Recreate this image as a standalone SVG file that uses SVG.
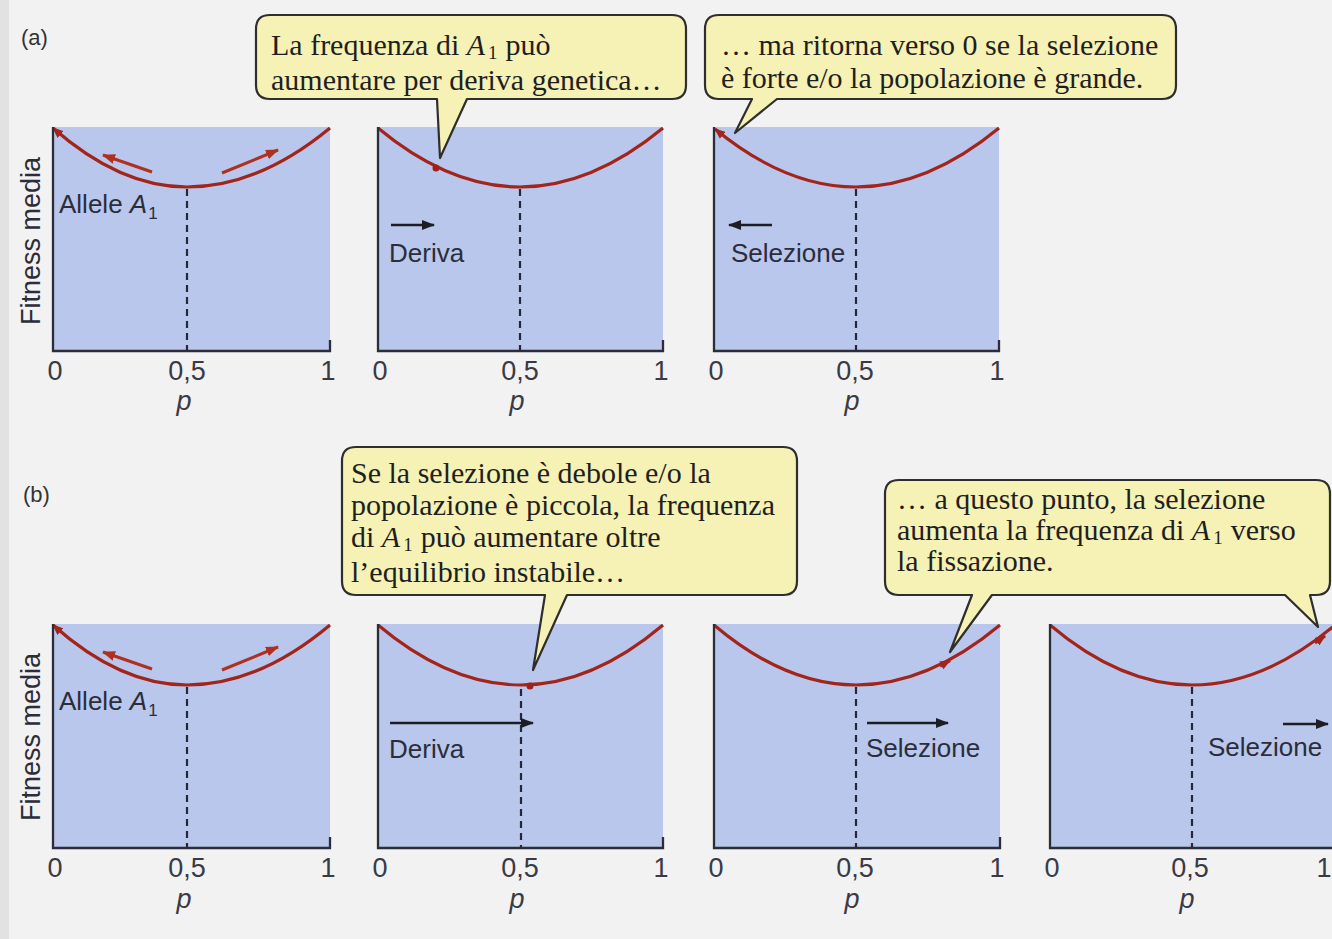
<svg xmlns="http://www.w3.org/2000/svg" width="1332" height="939" viewBox="0 0 1332 939">
<defs>
<style>
.bg{fill:#b8c7eb}
.ax{fill:none;stroke:#2b2d3a;stroke-width:2.3}
.dash{fill:none;stroke:#25273a;stroke-width:2.2;stroke-dasharray:7 5}
.crv{fill:none;stroke:#a3241b;stroke-width:3.2}
.rarr{fill:none;stroke:#b0301f;stroke-width:3}
.barr{fill:none;stroke:#1d1d24;stroke-width:2.4}
.tick{font-family:"Liberation Sans",Arial,sans-serif;font-size:27px;fill:#3a3a44;text-anchor:middle}
.pl{font-family:"Liberation Sans",Arial,sans-serif;font-size:27px;font-style:italic;fill:#3a3a44;text-anchor:middle}
.lbl{font-family:"Liberation Sans",Arial,sans-serif;font-size:26px;fill:#2b2d3a}
.ylab{font-family:"Liberation Sans",Arial,sans-serif;font-size:27px;fill:#2b2d3a;text-anchor:middle}
.tag{font-family:"Liberation Sans",Arial,sans-serif;font-size:22px;fill:#333}
.bub{fill:#f6f1b4;stroke:#2e2e2e;stroke-width:2.2;stroke-linejoin:round}
.ct{font-family:"Liberation Serif","Times New Roman",serif;font-size:30px;fill:#1f1f1f}
.dot{fill:#9e2218}
</style>
<marker id="bh" markerUnits="userSpaceOnUse" markerWidth="13" markerHeight="10" refX="12" refY="5" orient="auto">
<path d="M0,0 L13,5 L0,10 z" fill="#1d1d24"/>
</marker>
<marker id="rh" markerUnits="userSpaceOnUse" markerWidth="13" markerHeight="10" refX="12" refY="5" orient="auto">
<path d="M0,0 L13,5 L0,10 z" fill="#b0301f"/>
</marker>
<marker id="rs" markerUnits="userSpaceOnUse" markerWidth="11" markerHeight="9" refX="10" refY="4.5" orient="auto-start-reverse">
<path d="M0,0 L11,4.5 L0,9 z" fill="#a3241b"/>
</marker>
</defs>

<rect x="0" y="0" width="1332" height="939" fill="#f2f2f2"/>
<rect x="0" y="0" width="9" height="939" fill="#e2e2e2"/>

<text class="tag" x="21" y="45">(a)</text>
<text class="tag" x="23" y="502">(b)</text>

<!-- Row (a) -->
<g id="panel-a1">
<rect class="bg" x="53" y="127" width="277" height="224"/>
<path class="crv" d="M 53 128 Q 120 187 187 187 Q 258.5 187 330 128" marker-start="url(#rs)"/>
<path class="dash" d="M 187 189 V 350"/>
<path class="ax" d="M 53 127 V 351 H 330 V 340"/>
<text class="ylab" transform="translate(40 241) rotate(-90)">Fitness media</text>
<text class="lbl" x="59" y="213">Allele <tspan font-style="italic">A</tspan><tspan font-size="17" dx="1" dy="6">1</tspan></text>
<text class="tick" x="55" y="380">0</text>
<text class="tick" x="187" y="380">0,5</text>
<text class="tick" x="328" y="380">1</text>
<text class="pl" x="184" y="410">p</text>
</g>

<g id="panel-a2">
<rect class="bg" x="378" y="127" width="285" height="224"/>
<path class="crv" d="M 378 128 Q 449 187 520 187 Q 591.5 187 663 128"/>
<circle class="dot" cx="436" cy="168" r="3.5"/>
<path class="dash" d="M 520 189 V 350"/>
<path class="ax" d="M 378 127 V 351 H 663 V 340"/>
<text class="lbl" x="389" y="262">Deriva</text>
<text class="tick" x="380" y="380">0</text>
<text class="tick" x="520" y="380">0,5</text>
<text class="tick" x="661" y="380">1</text>
<text class="pl" x="517" y="410">p</text>
</g>

<g id="panel-a3">
<rect class="bg" x="714" y="127" width="285" height="224"/>
<path class="crv" d="M 715 129 Q 785.5 187 856 187 Q 927.5 187 999 128" marker-start="url(#rs)"/>
<path class="dash" d="M 856 189 V 350"/>
<path class="ax" d="M 714 127 V 351 H 999 V 340"/>
<text class="lbl" x="731" y="262">Selezione</text>
<text class="tick" x="716" y="380">0</text>
<text class="tick" x="855" y="380">0,5</text>
<text class="tick" x="997" y="380">1</text>
<text class="pl" x="852" y="410">p</text>
</g>

<!-- Row (b) -->
<g id="panel-b1">
<rect class="bg" x="53" y="624" width="277" height="224"/>
<path class="crv" d="M 53 625 Q 120 685 187 685 Q 258.5 685 330 625" marker-start="url(#rs)"/>
<path class="dash" d="M 187 687 V 847"/>
<path class="ax" d="M 53 624 V 848 H 330 V 837"/>
<text class="ylab" transform="translate(40 737) rotate(-90)">Fitness media</text>
<text class="lbl" x="59" y="710">Allele <tspan font-style="italic">A</tspan><tspan font-size="17" dx="1" dy="6">1</tspan></text>
<text class="tick" x="55" y="877">0</text>
<text class="tick" x="187" y="877">0,5</text>
<text class="tick" x="328" y="877">1</text>
<text class="pl" x="184" y="908">p</text>
</g>

<g id="panel-b2">
<rect class="bg" x="378" y="624" width="285" height="224"/>
<path class="crv" d="M 378 625 Q 449.5 685 521 685 Q 592 685 663 625"/>
<circle class="dot" cx="530" cy="686" r="3.5"/>
<path class="dash" d="M 521 689 V 847"/>
<path class="ax" d="M 378 624 V 848 H 663 V 837"/>
<text class="lbl" x="389" y="758">Deriva</text>
<text class="tick" x="380" y="877">0</text>
<text class="tick" x="520" y="877">0,5</text>
<text class="tick" x="661" y="877">1</text>
<text class="pl" x="517" y="908">p</text>
</g>

<g id="panel-b3">
<rect class="bg" x="714" y="624" width="286" height="224"/>
<path class="crv" d="M 714 625 Q 785 685 856 685 Q 928 685 1000 625"/>
<path class="dash" d="M 856 687 V 847"/>
<path class="ax" d="M 714 624 V 848 H 1000 V 837"/>
<text class="lbl" x="866" y="757">Selezione</text>
<text class="tick" x="716" y="877">0</text>
<text class="tick" x="855" y="877">0,5</text>
<text class="tick" x="997" y="877">1</text>
<text class="pl" x="852" y="908">p</text>
</g>

<g id="panel-b4">
<rect class="bg" x="1050" y="624" width="290" height="224"/>
<path class="crv" d="M 1050 625 Q 1121 685 1192 685 Q 1263.5 685 1335 625"/>
<path class="dash" d="M 1192 687 V 847"/>
<path class="ax" d="M 1050 624 V 848 H 1340"/>
<text class="lbl" x="1208" y="756">Selezione</text>
<text class="tick" x="1052" y="877">0</text>
<text class="tick" x="1190" y="877">0,5</text>
<text class="tick" x="1324" y="877">1</text>
<text class="pl" x="1187" y="908">p</text>
</g>

<!-- Connectors: direction arrows -->
<g id="connectors">
<path class="rarr" d="M 152 172 L 103 155" marker-end="url(#rh)"/>
<path class="rarr" d="M 222 173 L 278 150" marker-end="url(#rh)"/>
<path class="rarr" d="M 152 669 L 103 652" marker-end="url(#rh)"/>
<path class="rarr" d="M 222 670 L 278 647" marker-end="url(#rh)"/>
<path class="barr" d="M 391 225 L 434 225" marker-end="url(#bh)"/>
<path class="barr" d="M 772 225 L 729 225" marker-end="url(#bh)"/>
<path class="barr" d="M 390 723 L 533 723" marker-end="url(#bh)"/>
<path class="barr" d="M 867 723 L 948 723" marker-end="url(#bh)"/>
<path class="barr" d="M 1283 724 L 1328 724" marker-end="url(#bh)"/>
<path class="crv" d="M 940 666 L 950 660.5" marker-end="url(#rs)"/>
<path class="crv" d="M 1315 643 L 1325 636" marker-end="url(#rs)"/>
</g>

<!-- Callouts -->
<g id="callout-a1">
<path class="bub" d="M 270 15 H 672 Q 686 15 686 29 V 85 Q 686 99 672 99 H 467 L 440 158 L 437 99 H 270 Q 256 99 256 85 V 29 Q 256 15 270 15 Z"/>
<text class="ct" x="271" y="55">La frequenza di <tspan font-style="italic">A</tspan><tspan font-size="19" dx="3" dy="4">1</tspan><tspan dx="8" dy="-4">può</tspan></text>
<text class="ct" x="271" y="90">aumentare per deriva genetica…</text>
</g>

<g id="callout-a2">
<path class="bub" d="M 719 15 H 1162 Q 1176 15 1176 29 V 85 Q 1176 99 1162 99 H 777 L 735 133 L 752 99 H 719 Q 705 99 705 85 V 29 Q 705 15 719 15 Z"/>
<text class="ct" x="721" y="55">… ma ritorna verso 0 se la selezione</text>
<text class="ct" x="721" y="88">è forte e/o la popolazione è grande.</text>
</g>

<g id="callout-b1">
<path class="bub" d="M 356 447 H 783 Q 797 447 797 461 V 581 Q 797 595 783 595 H 567 L 533 670 L 545 595 H 356 Q 342 595 342 581 V 461 Q 342 447 356 447 Z"/>
<text class="ct" x="351" y="483">Se la selezione è debole e/o la</text>
<text class="ct" x="351" y="515">popolazione è piccola, la frequenza</text>
<text class="ct" x="351" y="547">di <tspan font-style="italic">A</tspan><tspan font-size="19" dx="3" dy="4">1</tspan><tspan dx="8" dy="-4">può aumentare oltre</tspan></text>
<text class="ct" x="351" y="582">l’equilibrio instabile…</text>
</g>

<g id="callout-b2">
<path class="bub" d="M 899 480 H 1316 Q 1330 480 1330 494 V 581 Q 1330 595 1316 595 H 1310 L 1318 627 L 1285 595 H 992 L 950 652 L 972 595 H 899 Q 885 595 885 581 V 494 Q 885 480 899 480 Z"/>
<text class="ct" x="897" y="509">… a questo punto, la selezione</text>
<text class="ct" x="897" y="540">aumenta la frequenza di <tspan font-style="italic">A</tspan><tspan font-size="19" dx="3" dy="4">1</tspan><tspan dx="8" dy="-4">verso</tspan></text>
<text class="ct" x="897" y="571">la fissazione.</text>
</g>
</svg>
